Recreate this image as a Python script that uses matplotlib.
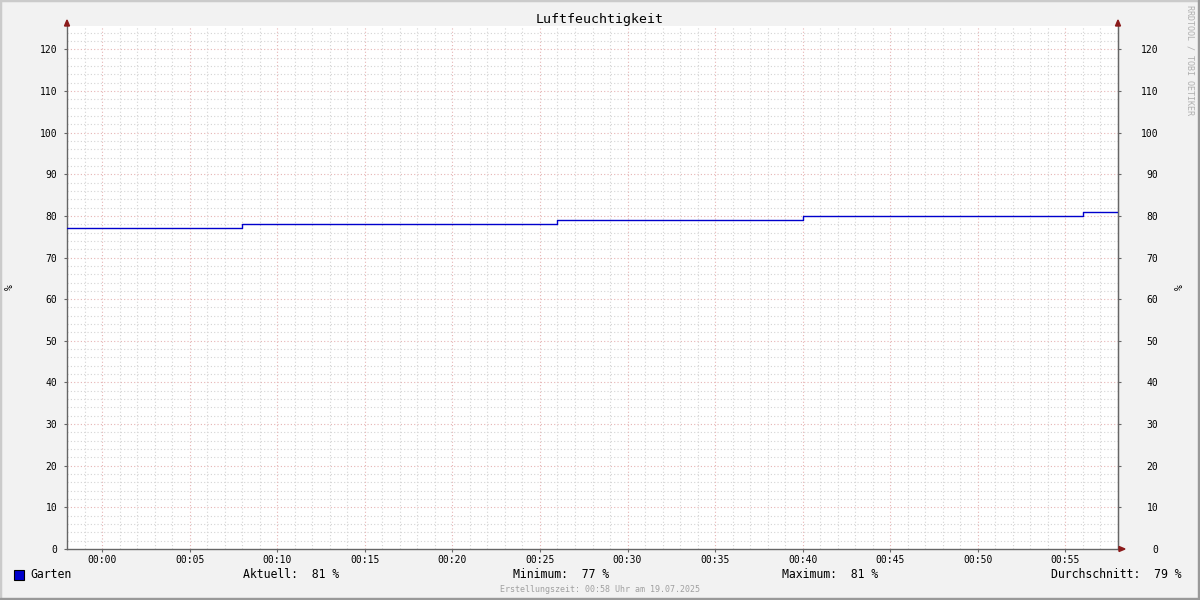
import matplotlib
matplotlib.use("Agg")
import matplotlib.pyplot as plt
from matplotlib.patches import Rectangle, Polygon

# Data: minutes since 00:00, step changes of humidity (Garten)
step_minutes = [-2, 8, 26, 40, 56, 58]
humidity = [77, 78, 79, 80, 81, 81]
tick_minutes = [0, 5, 10, 15, 20, 25, 30, 35, 40, 45, 50, 55]
tick_labels = ["00:00", "00:05", "00:10", "00:15", "00:20", "00:25",
               "00:30", "00:35", "00:40", "00:45", "00:50", "00:55"]
y_ticks = [0, 10, 20, 30, 40, 50, 60, 70, 80, 90, 100, 110, 120]
stats = [("Aktuell:", 81), ("Minimum:", 77), ("Maximum:", 81), ("Durchschnitt:", 79)]

mono = "DejaVu Sans Mono"
plt.rcParams["font.family"] = mono

W, H = 1200, 600
fig = plt.figure(figsize=(12, 6), dpi=100, facecolor="#F2F2F2")

# shaded frame like rrdtool
fig.patches.append(Rectangle((0, 0), 1, 1, transform=fig.transFigure, fill=False,
                             edgecolor="#CBCBCB", linewidth=2.5))
fig.patches.append(Rectangle((0, 0), 1, 2 / H, transform=fig.transFigure,
                             color="#999999", zorder=5))
fig.patches.append(Rectangle((1 - 2 / W, 0), 2 / W, 1, transform=fig.transFigure,
                             color="#999999", zorder=5))

x0, x1, y0, y1 = 67, 1118, 26, 549
ax = fig.add_axes([x0 / W, 1 - y1 / H, (x1 - x0) / W, (y1 - y0) / H])
ax.set_facecolor("white")
ax.set_xlim(-2, 58)
ax.set_ylim(0, 125.6)

# grid
for m in range(-1, 58):
    if m % 5 == 0:
        continue
    ax.axvline(m, color="#D4D4D4", lw=0.8, ls=(0, (1, 2)), zorder=1)
for v in range(2, 126, 2):
    if v % 10 == 0:
        continue
    ax.axhline(v, color="#D4D4D4", lw=0.8, ls=(0, (1, 2)), zorder=1)
for m in tick_minutes:
    ax.axvline(m, color="#E6B4B4", lw=0.8, ls=(0, (1, 2)), zorder=1.5)
for v in y_ticks[1:]:
    ax.axhline(v, color="#E6B4B4", lw=0.8, ls=(0, (1, 2)), zorder=1.5)

ax.step(step_minutes, humidity, where="post", color="#0000CC", lw=1.0, zorder=3)

ax.spines["top"].set_visible(False)
for s in ["left", "right", "bottom"]:
    ax.spines[s].set_color("#666666")
    ax.spines[s].set_linewidth(1.0)

ax.set_xticks(tick_minutes)
ax.set_xticklabels(tick_labels)
ax.set_yticks(y_ticks)
ax.tick_params(axis="x", length=2, pad=2, labelsize=7, colors="#666666", labelcolor="black")
ax.tick_params(axis="y", length=2, pad=5, labelsize=7, colors="#666666", labelcolor="black")

ax2 = ax.twinx()
ax2.set_ylim(ax.get_ylim())
ax2.set_yticks(y_ticks)
ax2.set_yticklabels([str(v) for v in y_ticks])
ax2.tick_params(axis="y", length=2, pad=27, labelsize=7, colors="#666666", labelcolor="black")
for lab in ax2.get_yticklabels():
    lab.set_horizontalalignment("right")
for s in ["top", "left", "bottom"]:
    ax2.spines[s].set_visible(False)
ax2.spines["right"].set_color("#666666")

# arrows at axis ends
arrow_c = "#8B1A1A"
def tri(pts):
    fig.patches.append(Polygon([(px / W, 1 - py / H) for px, py in pts], closed=True,
                               transform=fig.transFigure, color=arrow_c, zorder=6))
tri([(64.5, 26), (69.5, 26), (67, 20)])
tri([(1115.5, 26), (1120.5, 26), (1118, 20)])
tri([(1119, 546.5), (1119, 551.5), (1125, 549)])

fig.text(600 / W, 1 - 20 / H, "Luftfeuchtigkeit", ha="center", va="center", fontsize=9.5)
fig.text(10 / W, 1 - 287 / H, "%", rotation=90, ha="center", va="center", fontsize=7)
fig.text(1180 / W, 1 - 287 / H, "%", rotation=90, ha="center", va="center", fontsize=7)
fig.text(1190 / W, 1 - 60 / H, "RRDTOOL / TOBI OETIKER", rotation=270, ha="center",
         va="center", fontsize=6, color="#B0B0B0")

# legend line
fig.patches.append(Rectangle((14 / W, 1 - 580 / H), 10 / W, 10 / H, transform=fig.transFigure,
                             facecolor="#0000CC", edgecolor="black", lw=0.8, zorder=6))
fig.text(30 / W, 1 - 575 / H, "Garten", ha="left", va="center", fontsize=8.3)
stat_x = [243, 513, 782, 1051]
for (name, val), sx in zip(stats, stat_x):
    fig.text(sx / W, 1 - 575 / H, f"{name}  {val} %", ha="left", va="center", fontsize=8.3)

fig.text(600 / W, 1 - 589 / H, "Erstellungszeit: 00:58 Uhr am 19.07.2025", ha="center",
         va="center", fontsize=6, color="#A0A0A0")

fig.savefig("out.png", dpi=100, facecolor=fig.get_facecolor())
